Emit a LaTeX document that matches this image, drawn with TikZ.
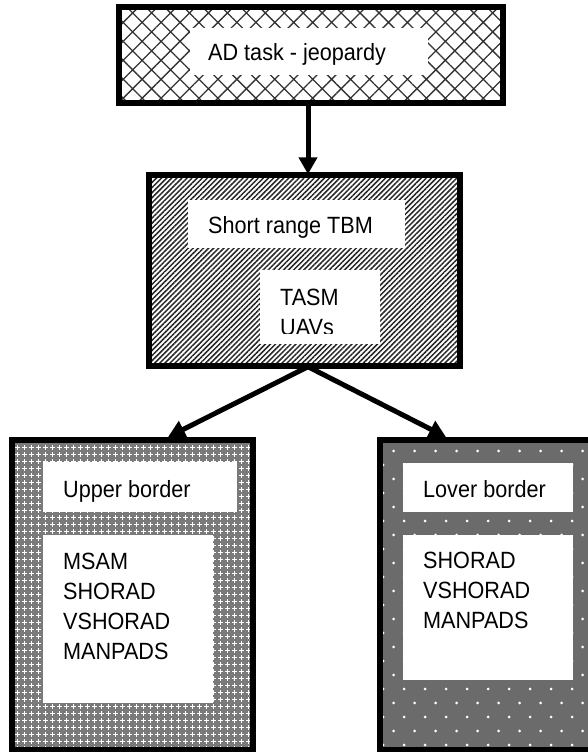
\documentclass[tikz,border=0pt]{standalone}
\usepackage{fontspec}
\setmainfont{Liberation Sans}
\usetikzlibrary{arrows.meta,patterns,patterns.meta}

\pgfdeclarepatterninherentlycolored{plusgrid}{\pgfpoint{-0.6pt}{-0.6pt}}{\pgfpoint{7.6pt}{7.6pt}}{\pgfpoint{7pt}{7pt}}{%
  \pgfsetfillcolor{black!52}%
  \pgfpathrectangle{\pgfpoint{-0.6pt}{-0.6pt}}{\pgfpoint{8.2pt}{8.2pt}}\pgfusepath{fill}%
  \pgfsetfillcolor{white}%
  \pgfpathrectangle{\pgfpoint{2.9pt}{1.2pt}}{\pgfpoint{1.2pt}{4.6pt}}\pgfusepath{fill}%
  \pgfpathrectangle{\pgfpoint{1.2pt}{2.9pt}}{\pgfpoint{4.6pt}{1.2pt}}\pgfusepath{fill}%
}
\pgfdeclarepatterninherentlycolored{stardots}{\pgfpoint{-0.6pt}{-0.6pt}}{\pgfpoint{21.6pt}{28.6pt}}{\pgfpoint{21pt}{28pt}}{%
  \pgfsetfillcolor{black!58}%
  \pgfpathrectangle{\pgfpoint{-0.6pt}{-0.6pt}}{\pgfpoint{22.2pt}{29.2pt}}\pgfusepath{fill}%
  \pgfsetfillcolor{white}%
  \pgfpathcircle{\pgfpoint{5pt}{7pt}}{1.5pt}\pgfusepath{fill}%
  \pgfpathcircle{\pgfpoint{15.5pt}{21pt}}{1.5pt}\pgfusepath{fill}%
}

\newcommand{\lbltxt}[1]{\scalebox{0.92}[1]{#1}}

\tikzset{
  boxframe/.style={draw=black, line width=6pt, inner sep=0pt},
  wbox/.style={fill=white, draw=none, inner sep=0pt},
  lbl/.style={font=\fontsize{23.5}{30}\selectfont, inner sep=0pt, anchor=base west},
  arr/.style={line width=5pt, -{Triangle[length=17pt,width=18pt]}}
}

\begin{document}
\begin{tikzpicture}[x=1pt,y=-1pt]
\useasboundingbox (0,0) rectangle (588,752);
\clip (0,0) rectangle (588,752);

% frames
\node[boxframe, pattern={Hatch[angle=45,distance=13.4pt,line width=1.3pt]}, pattern color=black!80,
      minimum width=384pt, minimum height=96pt] (top) at (311,55) {};
\node[boxframe, pattern={Lines[angle=45,distance=3.6pt,line width=1.5pt]}, pattern color=black!85,
      minimum width=311pt, minimum height=191pt] (mid) at (304.5,270.5) {};
\node[boxframe, pattern=plusgrid, minimum width=240.5pt, minimum height=310pt] (lb) at (132.25,595) {};
\node[boxframe, pattern=stardots, minimum width=220pt, minimum height=310pt] (rb) at (490,595) {};

% white label panels
\node[wbox, minimum width=238pt, minimum height=47pt] (wtop) at (309,51.5) {};
\node[wbox, minimum width=217pt, minimum height=48pt] (wshort) at (296.5,224) {};
\node[wbox, minimum width=120pt, minimum height=74pt] (wtasm) at (320,307) {};
\node[wbox, minimum width=194pt, minimum height=50pt] (wupper) at (140,487) {};
\node[wbox, minimum width=170pt, minimum height=168pt] (wlistl) at (128,619) {};
\node[wbox, minimum width=170pt, minimum height=49pt] (wlover) at (488,487.5) {};
\node[wbox, minimum width=170pt, minimum height=145pt] (wlistr) at (488,607.5) {};

% texts
\node[lbl] (tad) at (208,60) {\lbltxt{AD task - jeopardy}};
\node[lbl] (tshort) at (208,233) {\lbltxt{Short range TBM}};
\begin{scope}
  \clip (260,270) rectangle (380,333);
  \node[lbl] (ttasm) at (280,305) {\lbltxt{\begin{tabular}[t]{@{}l@{}}TASM\\UAVs\end{tabular}}};
\end{scope}
\node[lbl] (tupper) at (63,497) {\lbltxt{Upper border}};
\node[lbl] (tlistl) at (63,569) {\lbltxt{\begin{tabular}[t]{@{}l@{}}MSAM\\SHORAD\\VSHORAD\\MANPADS\end{tabular}}};
\node[lbl] (tlover) at (423,497) {\lbltxt{Lover border}};
\node[lbl] (tlistr) at (423,568) {\lbltxt{\begin{tabular}[t]{@{}l@{}}SHORAD\\VSHORAD\\MANPADS\end{tabular}}};

% connectors
\coordinate (ax) at (308,0);
\coordinate (lt) at (168,0);
\coordinate (rt) at (446,0);
\draw[arr] (top.south -| ax) -- (mid.north -| ax);
\draw[arr] (mid.south -| ax) -- (lb.north -| lt);
\draw[arr] (mid.south -| ax) -- (rb.north -| rt);
\end{tikzpicture}
\end{document}
